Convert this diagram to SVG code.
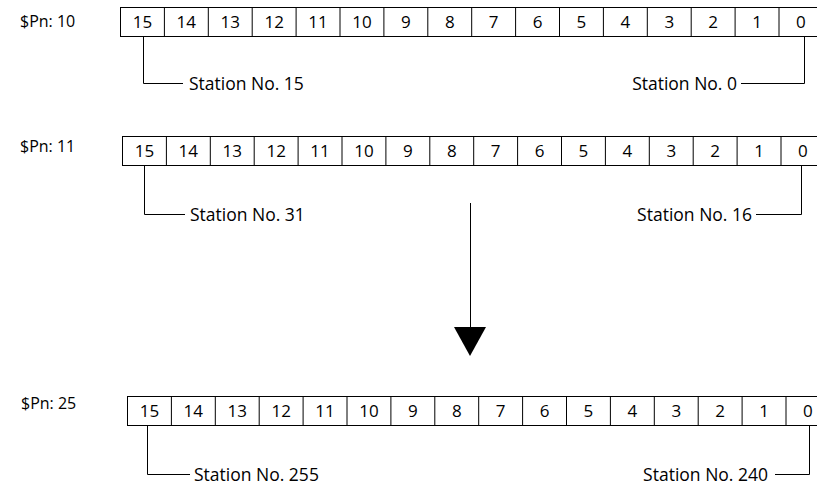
<svg xmlns="http://www.w3.org/2000/svg" width="817" height="485" viewBox="0 0 817 485">
<style>
text{font-family:"Open Sans","Noto Sans","DejaVu Sans",sans-serif;font-size:17px;fill:#000}
.c{text-anchor:middle}
.e{text-anchor:end}
.p{font-size:16px}
.s{font-size:17.5px}
.b{fill:#fff;stroke:#000;stroke-width:1}
.w{fill:none;stroke:#000;stroke-width:1}
</style>
<defs>
<g id="cells">
<rect class="b" x="0" y="0" width="710" height="29"/>
<path class="w" d="M43.9 0V29M87.8 0V29M131.7 0V29M175.6 0V29M219.5 0V29M263.4 0V29M307.3 0V29M351.2 0V29M395.1 0V29M439 0V29M482.9 0V29M526.8 0V29M570.7 0V29M614.6 0V29M658.5 0V29"/>
<text class="c" x="21.95" y="20.5">15</text>
<text class="c" x="65.85" y="20.5">14</text>
<text class="c" x="109.75" y="20.5">13</text>
<text class="c" x="153.65" y="20.5">12</text>
<text class="c" x="197.55" y="20.5">11</text>
<text class="c" x="241.45" y="20.5">10</text>
<text class="c" x="285.35" y="20.5">9</text>
<text class="c" x="329.25" y="20.5">8</text>
<text class="c" x="373.15" y="20.5">7</text>
<text class="c" x="417.05" y="20.5">6</text>
<text class="c" x="460.95" y="20.5">5</text>
<text class="c" x="504.85" y="20.5">4</text>
<text class="c" x="548.75" y="20.5">3</text>
<text class="c" x="592.65" y="20.5">2</text>
<text class="c" x="636.55" y="20.5">1</text>
<text class="c" x="680.45" y="20.5">0</text>
</g>
</defs>
<g id="row1">
<text class="p" x="20" y="27">$Pn: 10</text>
<use href="#cells" x="120.5" y="7.5"/>
</g>
<g id="row2">
<text class="p" x="20" y="152">$Pn: 11</text>
<use href="#cells" x="122.5" y="136.5"/>
</g>
<g id="row3">
<text class="p" x="21" y="409">$Pn: 25</text>
<use href="#cells" x="127.5" y="396.5"/>
</g>
<g id="labels">
<text class="s" x="189" y="89.5">Station No. 15</text>
<text class="s e" x="737" y="89.5">Station No. 0</text>
<text class="s" x="190" y="220.5">Station No. 31</text>
<text class="s e" x="752" y="220.5">Station No. 16</text>
<text class="s" x="194" y="480.5">Station No. 255</text>
<text class="s e" x="768" y="480.5">Station No. 240</text>
</g>
<g id="connectors">
<path class="w" d="M143.5 36.5V83.5H183"/>
<path class="w" d="M804.5 36.5V83.5H741"/>
<path class="w" d="M144.5 165.5V214.5H185"/>
<path class="w" d="M801.5 165.5V214.5H756"/>
<path class="w" d="M147.5 425.5V474.5H190"/>
<path class="w" d="M809.5 425.5V474.5H775"/>
<path class="w" d="M470.5 203V330"/>
<polygon points="454,327 486,327 470,356" fill="#000"/>
</g>
</svg>
